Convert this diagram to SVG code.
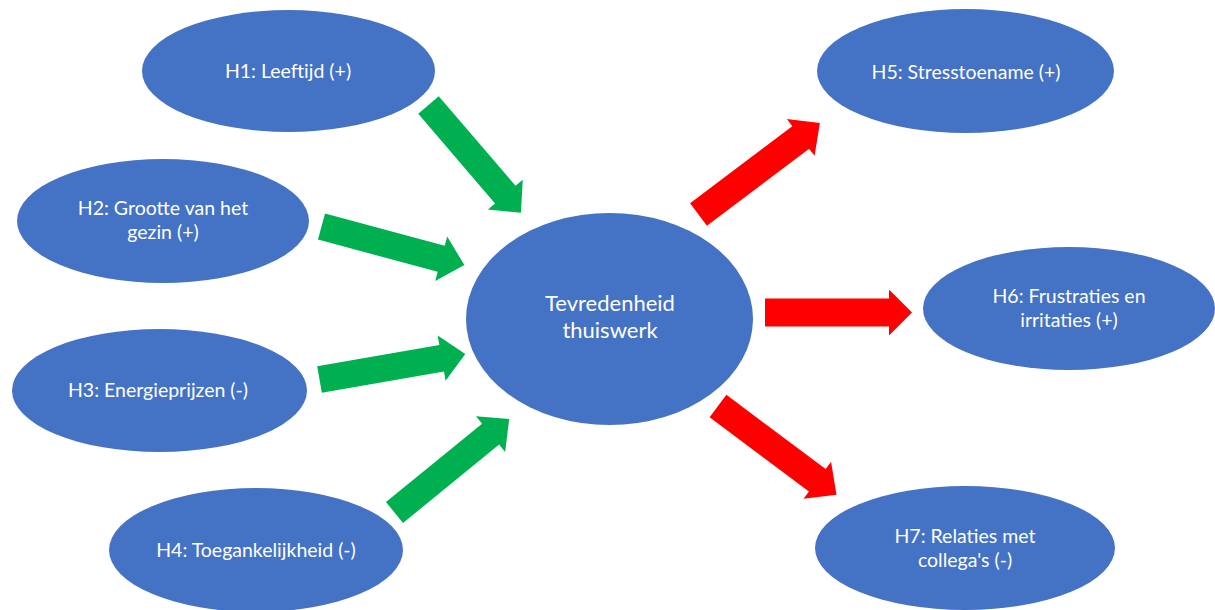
<svg xmlns="http://www.w3.org/2000/svg" width="1215" height="610" viewBox="0 0 1215 610">
<style>
.node{fill:#4472C4;}
.lbl{fill:#FFFFFF;font-family:Lato,"Liberation Sans",sans-serif;font-size:19.5px;text-anchor:middle;}
.big{font-size:22px;}
.pos{fill:#00B050;}
.neg{fill:#FF0000;}
</style>
<rect width="1215" height="610" fill="#FFFFFF"/>
<g id="connectors">
<path class="pos" transform="translate(428.5,105) rotate(49.4)" d="M0,-13.5 H118 V-23 L142,0 L118,23 V13.5 H0 Z"/>
<path class="pos" transform="translate(321.5,226.5) rotate(15.1)" d="M0,-13.5 H124 V-23 L148,0 L124,23 V13.5 H0 Z"/>
<path class="pos" transform="translate(319.5,379.5) rotate(-9.9)" d="M0,-13.5 H124 V-23 L148,0 L124,23 V13.5 H0 Z"/>
<path class="pos" transform="translate(394.5,512.5) rotate(-39.2)" d="M0,-13.5 H124 V-23 L148,0 L124,23 V13.5 H0 Z"/>
<path class="neg" transform="translate(698.5,214.5) rotate(-37)" d="M0,-14 H128 V-23 L152,0 L128,23 V14 H0 Z"/>
<path class="neg" transform="translate(765,312.5) rotate(0)" d="M0,-14 H124 V-23 L147,0 L124,23 V14 H0 Z"/>
<path class="neg" transform="translate(718,406) rotate(36.8)" d="M0,-14 H124 V-23 L148,0 L124,23 V14 H0 Z"/>
</g>
<g id="center">
<ellipse class="node" cx="609.5" cy="319" rx="143.5" ry="106"/>
<text class="lbl big" x="610" y="311">Tevredenheid</text>
<text class="lbl big" x="610" y="338">thuiswerk</text>
</g>
<g id="h1">
<ellipse class="node" cx="288.5" cy="71" rx="146.5" ry="61"/>
<text class="lbl" x="288" y="78">H1: Leeftijd (+)</text>
</g>
<g id="h2">
<ellipse class="node" cx="163" cy="221" rx="146" ry="62"/>
<text class="lbl" x="163" y="215">H2: Grootte van het</text>
<text class="lbl" x="163" y="239">gezin (+)</text>
</g>
<g id="h3">
<ellipse class="node" cx="159.5" cy="390.5" rx="147.5" ry="61.5"/>
<text class="lbl" x="158" y="397">H3: Energieprijzen (-)</text>
</g>
<g id="h4">
<ellipse class="node" cx="256" cy="550" rx="147" ry="62"/>
<text class="lbl" x="256" y="557">H4: Toegankelijkheid (-)</text>
</g>
<g id="h5">
<ellipse class="node" cx="965.5" cy="71" rx="148.5" ry="62"/>
<text class="lbl" x="966" y="79">H5: Stresstoename (+)</text>
</g>
<g id="h6">
<ellipse class="node" cx="1069" cy="308.5" rx="146" ry="61.5"/>
<text class="lbl" x="1069" y="303">H6: Frustraties en</text>
<text class="lbl" x="1069" y="327">irritaties (+)</text>
</g>
<g id="h7">
<ellipse class="node" cx="965" cy="548" rx="150" ry="62"/>
<text class="lbl" x="965" y="543">H7: Relaties met</text>
<text class="lbl" x="965" y="567">collega's (-)</text>
</g>
</svg>
